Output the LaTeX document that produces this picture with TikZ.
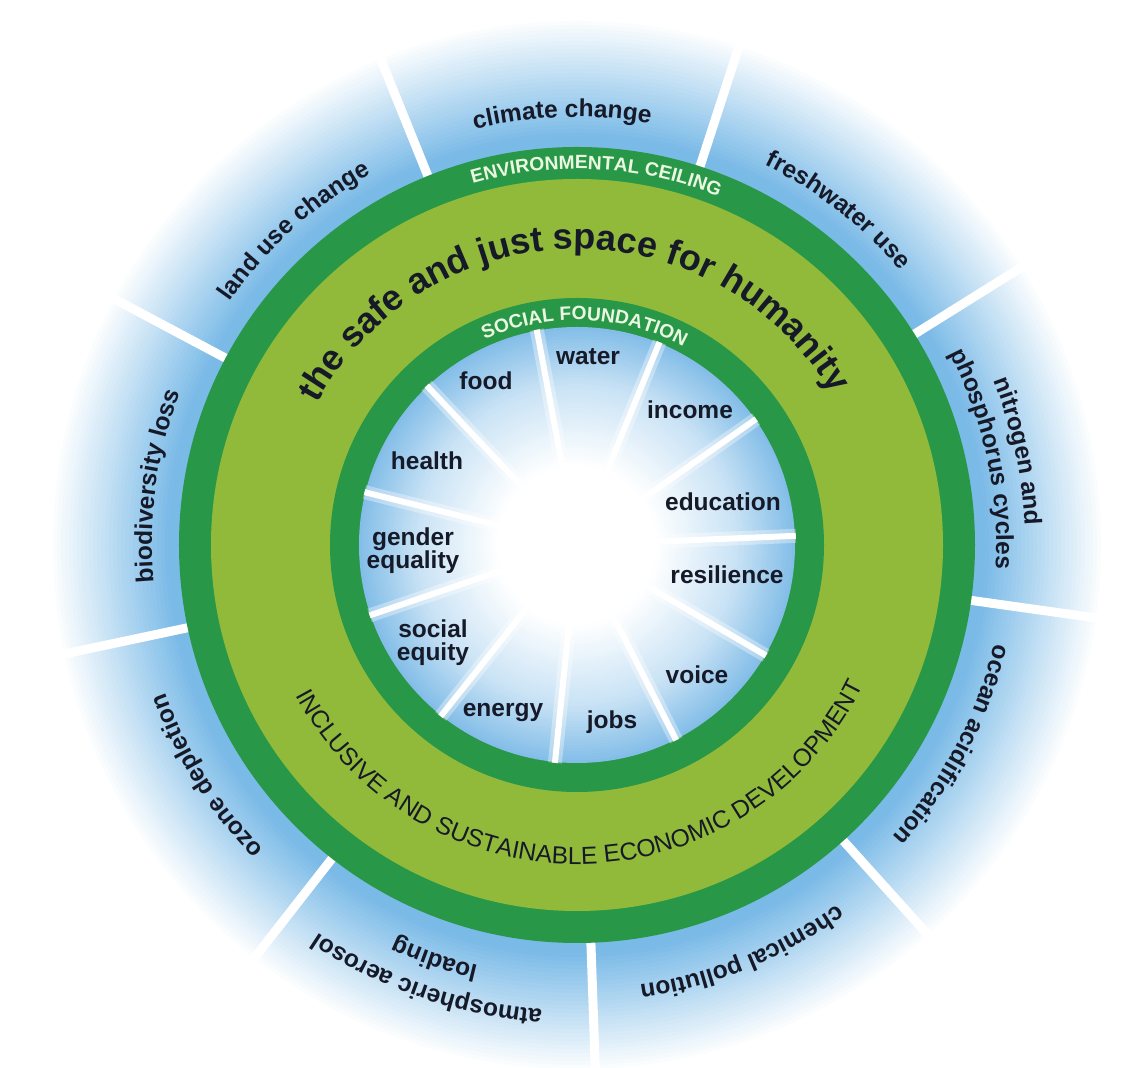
\documentclass[tikz,border=0pt]{standalone}
\usepackage{fontspec}
\setmainfont{Liberation Sans}
\usetikzlibrary{decorations.text}
\definecolor{dkgreen}{RGB}{40,152,72}
\definecolor{ltgreen}{RGB}{146,186,58}
\definecolor{ink}{RGB}{22,26,40}
\definecolor{envtext}{RGB}{235,248,225}
\definecolor{ringblue}{RGB}{122,186,231}
\definecolor{inneredge}{RGB}{132,190,232}
\newcommand\outerfont{\bfseries\fontsize{12.25}{14}\selectfont}
\newcommand\capsfont{\bfseries\fontsize{9.6}{12}\selectfont}
\newcommand\devfont{\fontsize{12.3}{14}\selectfont}
\newcommand\titlefont{\bfseries\fontsize{18}{21}\selectfont}
\begin{document}
\begin{tikzpicture}[x=0.5pt,y=0.5pt,
  lbl/.style={font=\bfseries\fontsize{12.25}{11.5}\selectfont, text=ink, align=center, inner sep=0pt},
  ctext/.style={decorate, decoration={text along path, text align=center, text color=ink, text={|\outerfont|#1}}},
  divider/.style={white, line width=4.5pt},
  spoke/.style={white, line width=3pt}]
\useasboundingbox (-577,-523) rectangle (557,545);
\fill[white] (-577,-523) rectangle (557,545);
% outer blue zone: stepped radial fade
\foreach \r in {540,536,...,396} {
  \pgfmathsetmacro\p{max(0,min(100,(528-\r)/118*100))}
  \fill[ringblue!\p!white] (0,0) circle[radius=\r];
}
\foreach \a in {32,72,...,352} \draw[divider] (\a:395) -- (\a:560);
% rings
\fill[dkgreen] (0,0) circle[radius=398];
\fill[ltgreen] (0,0) circle[radius=366];
\fill[dkgreen] (0,0) circle[radius=247];
% inner disc: stepped glow
\foreach \r in {218,215,...,76} {
  \pgfmathsetmacro\p{\r>160 ? 43+57*(\r-160)/58 : max(0,43*(\r-80)/80)}
  \fill[inneredge!\p!white] (0,0) circle[radius=\r];
}
\foreach \k in {0,...,10} {
  \draw[white, opacity=0.35, line width=7pt] (0,0) -- ({2.4+32.727*\k}:219);
  \draw[spoke] (0,0) -- ({2.4+32.727*\k}:219);
}
% inner labels
\node[lbl] (water) at (11,188) {water};
\node[lbl] (food) at (-91,164) {food};
\node[lbl] (income) at (113,135) {income};
\node[lbl] (health) at (-150,84) {health};
\node[lbl] (education) at (146,43) {education};
\node[lbl] (gender) at (-164,-6) {gender\\equality};
\node[lbl] (resilience) at (150,-30) {resilience};
\node[lbl] (social) at (-144,-98) {social\\equity};
\node[lbl] (voice) at (120,-130) {voice};
\node[lbl] (energy) at (-74,-168) {energy};
\node[lbl] (jobs) at (35,-177) {jobs};
% ring captions
\path[decorate, decoration={text along path, text align=center, text color=envtext, text={|\capsfont|ENVIRONMENTAL CEILING}}]
  (150:376) arc[start angle=150, end angle=24, radius=376];
\path[decorate, decoration={text along path, text align=center, text color=envtext, text={|\capsfont|SOCIAL FOUNDATION}}]
  (150:225) arc[start angle=150, end angle=26, radius=225];
\path[decorate, decoration={text along path, text align=center, text color=ink, text={|\titlefont|the safe and just space for humanity}}]
  (181:296) arc[start angle=181, end angle=1, radius=296];
\path[decorate, decoration={text along path, text align=center, text color=ink, text={|\devfont|INCLUSIVE AND SUSTAINABLE ECONOMIC DEVELOPMENT}}]
  (196:319) arc[start angle=196, end angle=346, radius=319];
% planetary boundaries
\path[ctext={climate change}] (152:428) arc[start angle=152, end angle=32, radius=428];
\path[ctext={freshwater use}] (112:424) arc[start angle=112, end angle=-8, radius=424];
\path[ctext={nitrogen and}] (72:448) arc[start angle=72, end angle=-48, radius=448];
\path[ctext={phosphorus cycles}] (72:419) arc[start angle=72, end angle=-48, radius=419];
\path[ctext={ocean acidification}] (32:429) arc[start angle=32, end angle=-88, radius=429];
\path[ctext={chemical pollution}] (-8:444) arc[start angle=-8, end angle=-128, radius=444];
\path[ctext={atmospheric aerosol}] (-49:466) arc[start angle=-49, end angle=-169, radius=466];
\path[ctext={loading}] (-49:432) arc[start angle=-49, end angle=-169, radius=432];
\path[ctext={ozone depletion}] (-88:437) arc[start angle=-88, end angle=-208, radius=437];
\path[ctext={biodiversity loss}] (232:425) arc[start angle=232, end angle=112, radius=425];
\path[ctext={land use change}] (192:424) arc[start angle=192, end angle=72, radius=424];
\end{tikzpicture}
\end{document}
